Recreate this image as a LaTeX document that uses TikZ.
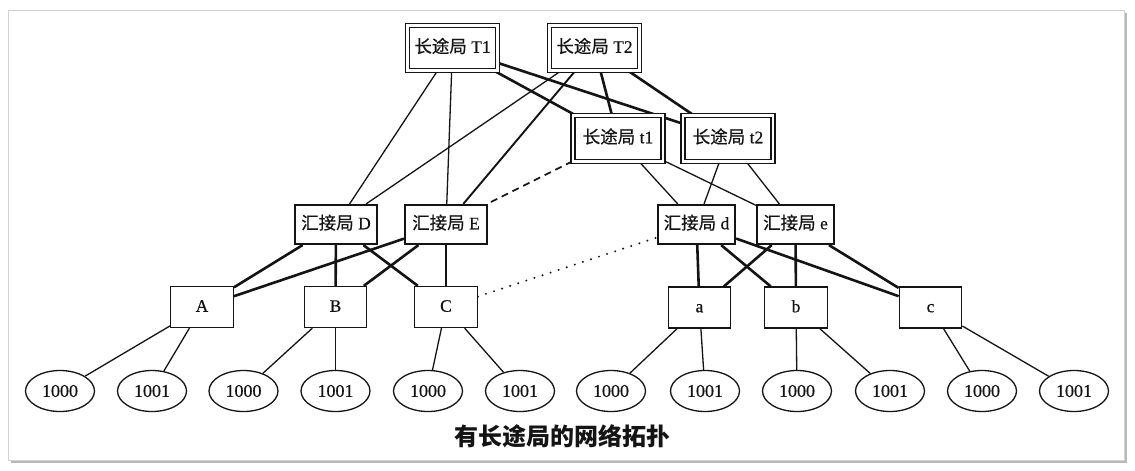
\documentclass[tikz,border=0pt]{standalone}
\usepackage{fontspec}
\setmainfont{Liberation Serif}[FakeBold=0.5]
\newfontfamily\cjk{Noto Sans CJK SC}[FakeBold=0.4]
\newfontfamily\cjkcap{Noto Sans CJK SC}
\usetikzlibrary{shapes.geometric,backgrounds}
\definecolor{ink}{gray}{0.08}
\tikzset{
  lbl/.style={font=\fontsize{17.5}{20}\selectfont, inner sep=0pt, text=ink, text height=12.5pt, text depth=3pt},
  tbox/.style={draw=ink, line width=1.3pt, double=white, double distance=2.6pt, fill=white, minimum width=90pt, minimum height=45.5pt, lbl},
  hbox/.style={draw=ink, line width=2.2pt, fill=white, minimum height=39pt, lbl},
  lbox/.style={draw=ink, line width=1.3pt, fill=white, minimum width=62.5pt, minimum height=41pt, lbl},
  term/.style={ellipse, draw=ink, line width=1.3pt, fill=white, minimum width=69pt, minimum height=41pt, font=\fontsize{18}{20}\selectfont, inner sep=0pt, text=ink},
  thinlink/.style={draw=ink, line width=1.3pt},
  trunk/.style={draw=ink, line width=2.6pt},
  dashlink/.style={draw=ink, line width=1.7pt, dash pattern=on 7pt off 5pt},
  dotlink/.style={draw=ink, line width=2.2pt, line cap=round, dash pattern=on 0pt off 8.5pt},
  caption/.style={font=\fontsize{24}{28}\selectfont\cjkcap\bfseries, inner sep=0pt, text=ink}
}
\begin{document}
\begin{tikzpicture}[x=1pt,y=-1pt]
\useasboundingbox (0,0) rectangle (1135,471);
% long-distance offices
\node[tbox] (T1) at (452.5,48) {{\cjk 长途局} T1};
\node[tbox] (T2) at (594.5,48) {{\cjk 长途局} T2};
\node[tbox] (t1) at (618,138.5) {{\cjk 长途局} t1};
\node[tbox] (t2) at (728,138.5) {{\cjk 长途局} t2};
% tandem offices
\node[hbox, minimum width=82pt] (D) at (336,224.5) {{\cjk 汇接局} D};
\node[hbox, minimum width=82pt] (E) at (446,224.5) {{\cjk 汇接局} E};
\node[hbox, minimum width=77pt] (d) at (696.5,224.5) {{\cjk 汇接局} d};
\node[hbox, minimum width=77pt] (e) at (795.5,224.5) {{\cjk 汇接局} e};
% local offices
\node[lbox] (A) at (202,307) {A};
\node[lbox] (B) at (335.5,307) {B};
\node[lbox] (C) at (446,307) {C};
\node[lbox] (a) at (699.5,307.5) {a};
\node[lbox] (b) at (796,307.5) {b};
\node[lbox] (c) at (930.5,307.5) {c};
% terminals
\node[term] (e1) at (60,391) {1000};
\node[term] (e2) at (152,391) {1001};
\node[term] (e3) at (243.5,391) {1000};
\node[term] (e4) at (335.5,391) {1001};
\node[term] (e5) at (428,391) {1000};
\node[term] (e6) at (520,391) {1001};
\node[term] (e7) at (611,391) {1000};
\node[term] (e8) at (705,391) {1001};
\node[term] (e9) at (797,391) {1000};
\node[term] (e10) at (890,391) {1001};
\node[term] (e11) at (982,391) {1000};
\node[term] (e12) at (1074,391) {1001};
% caption
\node[caption] (cap) at (562,436) {有长途局的网络拓扑};
\begin{pgfonlayer}{background}
  \fill[white] (0,0) rectangle (1135,471);
  % frame
  \draw[gray!35, line width=1pt] (8,10) rectangle (1124,460);
  \draw[gray!55, line width=2pt] (1126,13) -- (1126,462) -- (11,462);
  % trunk between long-distance offices
  \draw[trunk] (T1) -- (t1);
  \draw[trunk] (T1) -- (t2);
  \draw[trunk] (T2) -- (t1);
  \draw[trunk] (T2) -- (t2);
  \draw[thinlink] (T1) -- (D);
  \draw[thinlink] (T1) -- (E);
  \draw[thinlink] (T2) -- (D);
  \draw[draw=ink, line width=1.9pt] (T2) -- (E);
  \draw[thinlink] (t1) -- (d);
  \draw[thinlink] (t1) -- (e);
  \draw[thinlink] (t2) -- (d);
  \draw[thinlink] (t2) -- (e);
  \draw[dashlink] (t1) -- (E);
  \draw[dotlink] (C) -- (d);
  % tandem to local
  \draw[trunk] (D) -- (A);
  \draw[trunk] (D) -- (B);
  \draw[trunk] (D) -- (C);
  \draw[trunk] (E) -- (A);
  \draw[trunk] (E) -- (B);
  \draw[trunk] (E) -- (C);
  \draw[trunk] (d) -- (a);
  \draw[trunk] (d) -- (b);
  \draw[trunk] (d) -- (c);
  \draw[trunk] (e) -- (a);
  \draw[trunk] (e) -- (b);
  \draw[trunk] (e) -- (c);
  % local to terminals
  \draw[thinlink] (A) -- (e1);
  \draw[thinlink] (A) -- (e2);
  \draw[thinlink] (B) -- (e3);
  \draw[thinlink] (B) -- (e4);
  \draw[thinlink] (C) -- (e5);
  \draw[thinlink] (C) -- (e6);
  \draw[thinlink] (a) -- (e7);
  \draw[thinlink] (a) -- (e8);
  \draw[thinlink] (b) -- (e9);
  \draw[thinlink] (b) -- (e10);
  \draw[thinlink] (c) -- (e11);
  \draw[thinlink] (c) -- (e12);
\end{pgfonlayer}
\end{tikzpicture}
\end{document}
